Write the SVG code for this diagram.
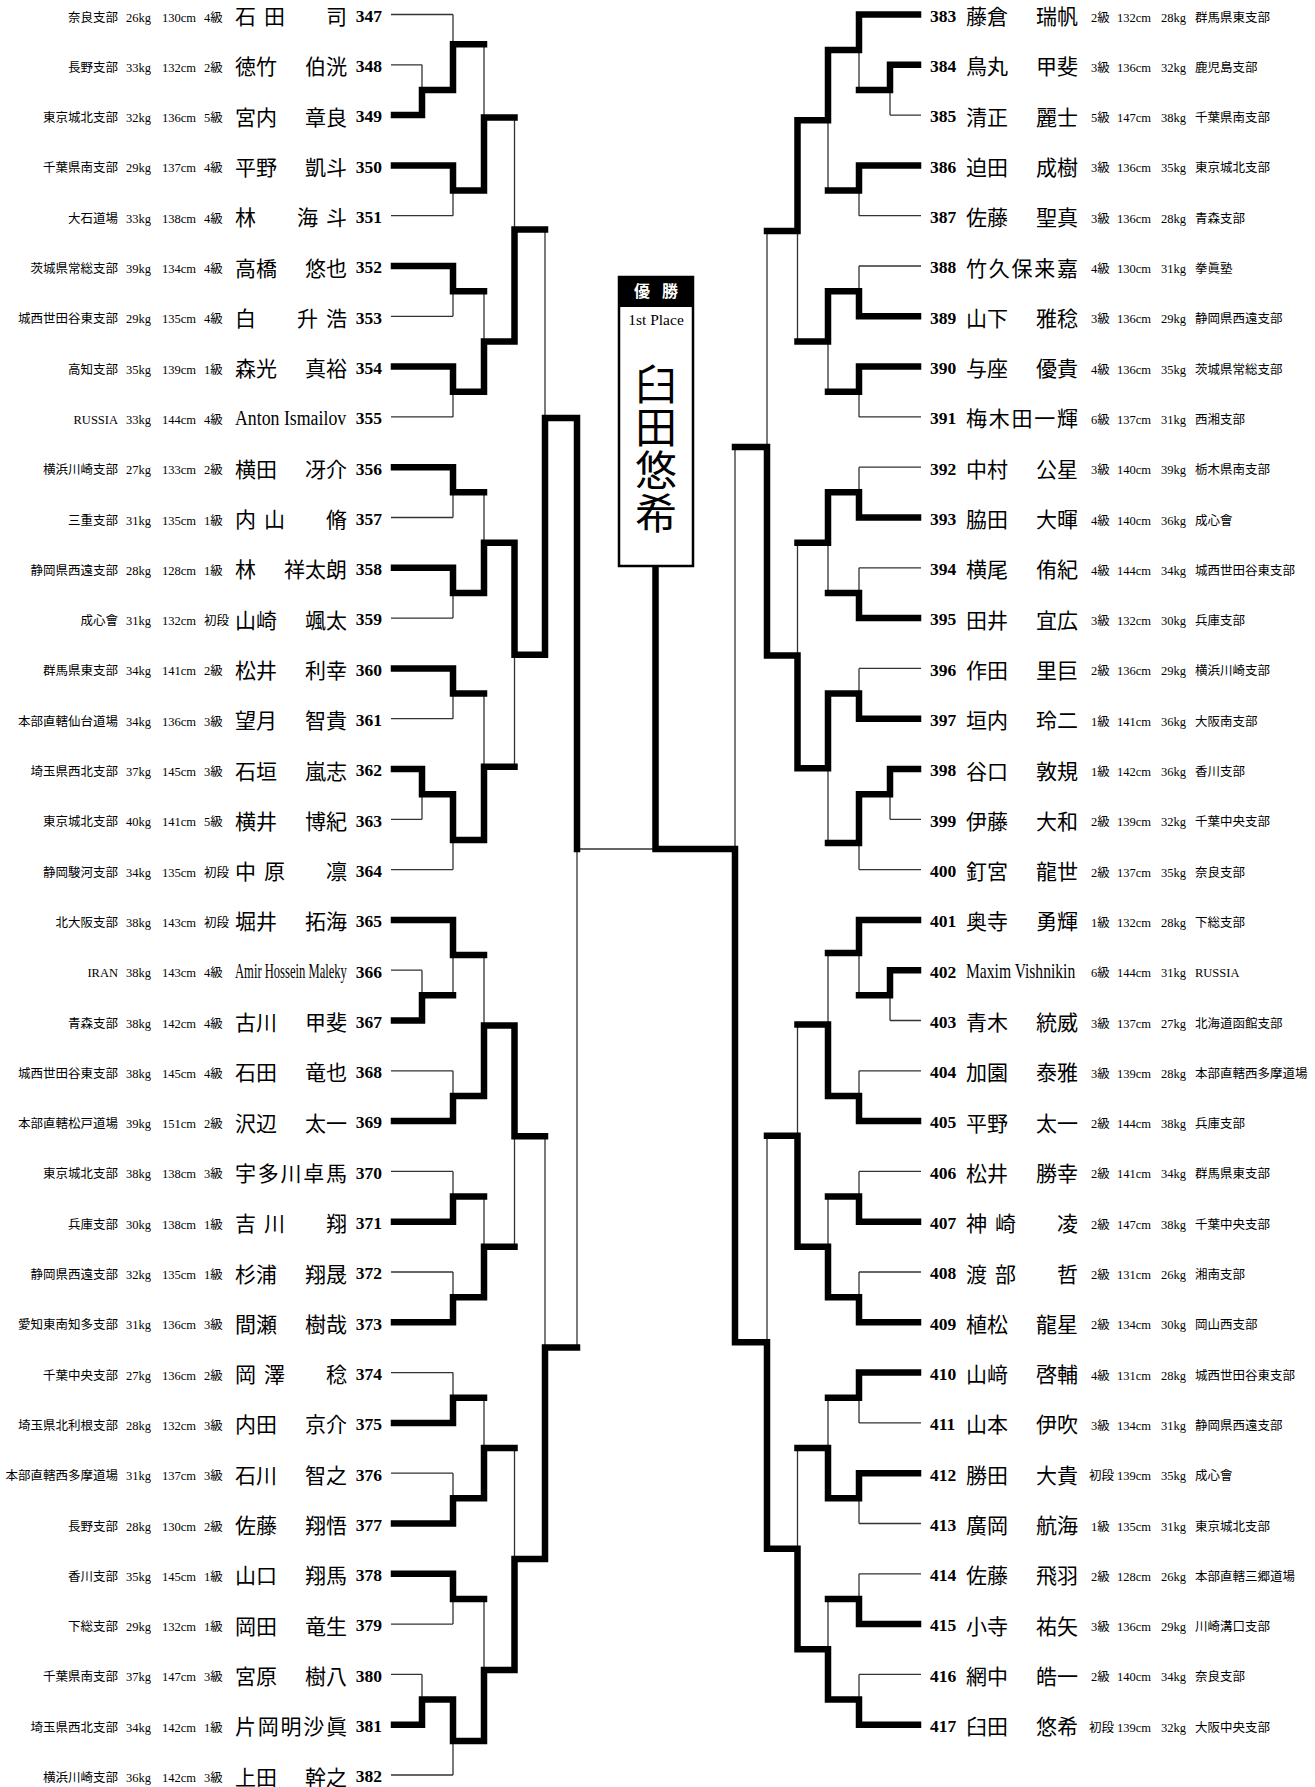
<svg xmlns="http://www.w3.org/2000/svg" width="1315" height="1787" viewBox="0 0 1315 1787">
<style>
text{font-family:"Liberation Serif","Noto Sans CJK JP",serif;fill:#000}
.i{font-size:12.5px}
.n{font-size:21px}
.lt{font-size:20px}
.no{font-size:17.5px;font-weight:bold}
.e{text-anchor:end}
.sp{letter-spacing:8px}
.tk{fill:none;stroke:#000;stroke-width:6.5;stroke-linecap:square;stroke-linejoin:miter}
.tn{fill:none;stroke:#333;stroke-width:1.3}
</style>
<rect width="1315" height="1787" fill="#fff"/>
<g id="connectors">
<path class="tn" d="M391 14.5H453M391 64.8H422M391 215.7H453M391 316.3H453M391 416.9H453M391 517.5H453M391 618.1H453M391 718.7H453M391 819.3H422M391 869.6H453M391 970.2H422M391 1070.8H453M391 1171.4H453M391 1272H453M391 1372.6H453M391 1473.2H453M391 1624.1H453M391 1674.4H422M391 1775H453
M422 64.8V90M453 14.5V44.3M453 215.7V190.55M484 44.3V117.4M453 316.3V291.15M453 416.9V391.75M484 291.15V341.45M514.5 117.4V229.4M453 517.5V492.35M453 618.1V592.95M484 492.35V542.65M453 718.7V693.55M422 819.3V794.15M453 869.6V840M484 693.55V766.8M514.5 766.8V654.7M545 229.4V418M422 970.2V995.35M453 995.35V955M453 1070.8V1095.95M484 955V1025.5M453 1171.4V1196.55M453 1272V1297.15M484 1196.55V1246.85M514.5 1246.85V1136.2M453 1372.6V1397.75M453 1473.2V1498.35M484 1397.75V1448.05M453 1624.1V1598.95M422 1674.4V1699.55M453 1775V1741M484 1598.95V1670M514.5 1448.05V1559M545 1136.2V1347.6M577 1347.6V849H655.5"/>
<path class="tk" d="M394 115.1H422M394 165.4H453M394 266H453M394 366.6H453M394 467.2H453M394 567.8H453M394 668.4H453M394 769H422M394 919.9H453M394 1020.5H422M394 1121.1H453M394 1221.7H453M394 1322.3H453M394 1422.9H453M394 1523.5H453M394 1573.8H453M394 1724.7H422
M422 115.1V90H453M453 90V44.3H484M453 165.4V190.55H484M484 190.55V117.4H514.5M453 266V291.15H484M453 366.6V391.75H484M484 391.75V341.45H514.5M514.5 341.45V229.4H545M453 467.2V492.35H484M453 567.8V592.95H484M484 592.95V542.65H514.5M453 668.4V693.55H484M422 769V794.15H453M453 794.15V840H484M484 840V766.8H514.5M514.5 542.65V654.7H545M545 654.7V418H577M422 1020.5V995.35H453M453 919.9V955H484M453 1121.1V1095.95H484M484 1095.95V1025.5H514.5M453 1221.7V1196.55H484M453 1322.3V1297.15H484M484 1297.15V1246.85H514.5M514.5 1025.5V1136.2H545M453 1422.9V1397.75H484M453 1523.5V1498.35H484M484 1498.35V1448.05H514.5M453 1573.8V1598.95H484M422 1724.7V1699.55H453M453 1699.55V1741H484M484 1741V1670H514.5M514.5 1670V1559H545M545 1559V1347.6H577M577 418V849"/>
<path class="tn" d="M921 115.1H890M921 215.7H859M921 266H859M921 416.9H859M921 467.2H859M921 567.8H859M921 668.4H859M921 819.3H890M921 869.6H859M921 1020.5H890M921 1070.8H859M921 1171.4H859M921 1272H859M921 1422.9H859M921 1523.5H859M921 1573.8H859M921 1674.4H859
M890 115.1V90M859 90V50M859 215.7V190.55M828 190.55V120.3M859 266V291.15M859 416.9V391.75M828 391.75V341.45M797.5 341.45V230.9M859 467.2V492.35M859 567.8V592.95M828 592.95V542.65M859 668.4V693.55M890 819.3V794.15M859 869.6V843M828 843V768.3M797.5 542.65V655.5M767 230.9V447M890 1020.5V995.35M859 995.35V953M859 1070.8V1095.95M828 953V1024.5M859 1171.4V1196.55M859 1272V1297.15M828 1196.55V1246.85M797.5 1024.5V1135.7M859 1422.9V1397.75M859 1523.5V1498.35M828 1397.75V1448.05M859 1573.8V1598.95M859 1674.4V1699.55M828 1598.95V1649.25M797.5 1448.05V1548.65M767 1135.7V1342.2M735 447V849"/>
<path class="tk" d="M918 14.5H859M918 64.8H890M918 165.4H859M918 316.3H859M918 366.6H859M918 517.5H859M918 618.1H859M918 718.7H859M918 769H890M918 919.9H859M918 970.2H890M918 1121.1H859M918 1221.7H859M918 1322.3H859M918 1372.6H859M918 1473.2H859M918 1624.1H859M918 1724.7H859
M890 64.8V90H859M859 14.5V50H828M859 165.4V190.55H828M828 50V120.3H797.5M859 316.3V291.15H828M859 366.6V391.75H828M828 291.15V341.45H797.5M797.5 120.3V230.9H767M859 517.5V492.35H828M859 618.1V592.95H828M828 492.35V542.65H797.5M859 718.7V693.55H828M890 769V794.15H859M859 794.15V843H828M828 693.55V768.3H797.5M797.5 768.3V655.5H767M767 655.5V447H735M890 970.2V995.35H859M859 919.9V953H828M859 1121.1V1095.95H828M828 1095.95V1024.5H797.5M859 1221.7V1196.55H828M859 1322.3V1297.15H828M828 1297.15V1246.85H797.5M797.5 1246.85V1135.7H767M859 1372.6V1397.75H828M859 1473.2V1498.35H828M828 1498.35V1448.05H797.5M859 1624.1V1598.95H828M859 1724.7V1699.55H828M828 1699.55V1649.25H797.5M797.5 1649.25V1548.65H767M767 1548.65V1342.2H735M735 1342.2V849H655.5V566"/>
</g>
<g id="champion">
<rect x="619" y="277" width="74" height="289" fill="#fff" stroke="#000" stroke-width="2.5"/>
<rect x="619" y="277" width="74" height="30" fill="#000"/>
<text x="642" y="297" font-size="16" font-weight="bold" text-anchor="middle" style="fill:#fff">優</text>
<text x="670" y="297" font-size="16" font-weight="bold" text-anchor="middle" style="fill:#fff">勝</text>
<text x="656" y="325" font-size="15.5" text-anchor="middle">1st Place</text>
<text x="656" y="400" font-size="42" text-anchor="middle">臼</text>
<text x="656" y="443" font-size="42" text-anchor="middle">田</text>
<text x="656" y="486" font-size="42" text-anchor="middle">悠</text>
<text x="656" y="529" font-size="42" text-anchor="middle">希</text>
</g>
<g id="p347" transform="translate(0,14.5)"><text class="i e" x="118" y="7">奈良支部</text><text class="i" x="126" y="7">26kg</text><text class="i" x="162" y="7">130cm</text><text class="i" x="204" y="7">4級</text><text class="n sp" x="235" y="9.5">石田</text><text class="n e" x="347" y="9.5">司</text><text class="no e" x="382" y="7.3">347</text></g>
<g id="p348" transform="translate(0,64.8)"><text class="i e" x="118" y="7">長野支部</text><text class="i" x="126" y="7">33kg</text><text class="i" x="162" y="7">132cm</text><text class="i" x="204" y="7">2級</text><text class="n" x="235" y="9.5">徳竹</text><text class="n e" x="347" y="9.5">伯洸</text><text class="no e" x="382" y="7.3">348</text></g>
<g id="p349" transform="translate(0,115.1)"><text class="i e" x="118" y="7">東京城北支部</text><text class="i" x="126" y="7">32kg</text><text class="i" x="162" y="7">136cm</text><text class="i" x="204" y="7">5級</text><text class="n" x="235" y="9.5">宮内</text><text class="n e" x="347" y="9.5">章良</text><text class="no e" x="382" y="7.3">349</text></g>
<g id="p350" transform="translate(0,165.4)"><text class="i e" x="118" y="7">千葉県南支部</text><text class="i" x="126" y="7">29kg</text><text class="i" x="162" y="7">137cm</text><text class="i" x="204" y="7">4級</text><text class="n" x="235" y="9.5">平野</text><text class="n e" x="347" y="9.5">凱斗</text><text class="no e" x="382" y="7.3">350</text></g>
<g id="p351" transform="translate(0,215.7)"><text class="i e" x="118" y="7">大石道場</text><text class="i" x="126" y="7">33kg</text><text class="i" x="162" y="7">138cm</text><text class="i" x="204" y="7">4級</text><text class="n" x="235" y="9.5">林</text><text class="n sp" x="297" y="9.5">海斗</text><text class="no e" x="382" y="7.3">351</text></g>
<g id="p352" transform="translate(0,266)"><text class="i e" x="118" y="7">茨城県常総支部</text><text class="i" x="126" y="7">39kg</text><text class="i" x="162" y="7">134cm</text><text class="i" x="204" y="7">4級</text><text class="n" x="235" y="9.5">高橋</text><text class="n e" x="347" y="9.5">悠也</text><text class="no e" x="382" y="7.3">352</text></g>
<g id="p353" transform="translate(0,316.3)"><text class="i e" x="118" y="7">城西世田谷東支部</text><text class="i" x="126" y="7">29kg</text><text class="i" x="162" y="7">135cm</text><text class="i" x="204" y="7">4級</text><text class="n" x="235" y="9.5">白</text><text class="n sp" x="297" y="9.5">升浩</text><text class="no e" x="382" y="7.3">353</text></g>
<g id="p354" transform="translate(0,366.6)"><text class="i e" x="118" y="7">高知支部</text><text class="i" x="126" y="7">35kg</text><text class="i" x="162" y="7">139cm</text><text class="i" x="204" y="7">1級</text><text class="n" x="235" y="9.5">森光</text><text class="n e" x="347" y="9.5">真裕</text><text class="no e" x="382" y="7.3">354</text></g>
<g id="p355" transform="translate(0,416.9)"><text class="i e" x="118" y="7">RUSSIA</text><text class="i" x="126" y="7">33kg</text><text class="i" x="162" y="7">144cm</text><text class="i" x="204" y="7">4級</text><text class="lt" transform="translate(235,8) scale(0.89,1)">Anton Ismailov</text><text class="no e" x="382" y="7.3">355</text></g>
<g id="p356" transform="translate(0,467.2)"><text class="i e" x="118" y="7">横浜川崎支部</text><text class="i" x="126" y="7">27kg</text><text class="i" x="162" y="7">133cm</text><text class="i" x="204" y="7">2級</text><text class="n" x="235" y="9.5">横田</text><text class="n e" x="347" y="9.5">冴介</text><text class="no e" x="382" y="7.3">356</text></g>
<g id="p357" transform="translate(0,517.5)"><text class="i e" x="118" y="7">三重支部</text><text class="i" x="126" y="7">31kg</text><text class="i" x="162" y="7">135cm</text><text class="i" x="204" y="7">1級</text><text class="n sp" x="235" y="9.5">内山</text><text class="n e" x="347" y="9.5">脩</text><text class="no e" x="382" y="7.3">357</text></g>
<g id="p358" transform="translate(0,567.8)"><text class="i e" x="118" y="7">静岡県西遠支部</text><text class="i" x="126" y="7">28kg</text><text class="i" x="162" y="7">128cm</text><text class="i" x="204" y="7">1級</text><text class="n" x="235" y="9.5">林</text><text class="n e" x="347" y="9.5">祥太朗</text><text class="no e" x="382" y="7.3">358</text></g>
<g id="p359" transform="translate(0,618.1)"><text class="i e" x="118" y="7">成心會</text><text class="i" x="126" y="7">31kg</text><text class="i" x="162" y="7">132cm</text><text class="i" x="204" y="7">初段</text><text class="n" x="235" y="9.5">山崎</text><text class="n e" x="347" y="9.5">颯太</text><text class="no e" x="382" y="7.3">359</text></g>
<g id="p360" transform="translate(0,668.4)"><text class="i e" x="118" y="7">群馬県東支部</text><text class="i" x="126" y="7">34kg</text><text class="i" x="162" y="7">141cm</text><text class="i" x="204" y="7">2級</text><text class="n" x="235" y="9.5">松井</text><text class="n e" x="347" y="9.5">利幸</text><text class="no e" x="382" y="7.3">360</text></g>
<g id="p361" transform="translate(0,718.7)"><text class="i e" x="118" y="7">本部直轄仙台道場</text><text class="i" x="126" y="7">34kg</text><text class="i" x="162" y="7">136cm</text><text class="i" x="204" y="7">3級</text><text class="n" x="235" y="9.5">望月</text><text class="n e" x="347" y="9.5">智貴</text><text class="no e" x="382" y="7.3">361</text></g>
<g id="p362" transform="translate(0,769)"><text class="i e" x="118" y="7">埼玉県西北支部</text><text class="i" x="126" y="7">37kg</text><text class="i" x="162" y="7">145cm</text><text class="i" x="204" y="7">3級</text><text class="n" x="235" y="9.5">石垣</text><text class="n e" x="347" y="9.5">嵐志</text><text class="no e" x="382" y="7.3">362</text></g>
<g id="p363" transform="translate(0,819.3)"><text class="i e" x="118" y="7">東京城北支部</text><text class="i" x="126" y="7">40kg</text><text class="i" x="162" y="7">141cm</text><text class="i" x="204" y="7">5級</text><text class="n" x="235" y="9.5">横井</text><text class="n e" x="347" y="9.5">博紀</text><text class="no e" x="382" y="7.3">363</text></g>
<g id="p364" transform="translate(0,869.6)"><text class="i e" x="118" y="7">静岡駿河支部</text><text class="i" x="126" y="7">34kg</text><text class="i" x="162" y="7">135cm</text><text class="i" x="204" y="7">初段</text><text class="n sp" x="235" y="9.5">中原</text><text class="n e" x="347" y="9.5">凛</text><text class="no e" x="382" y="7.3">364</text></g>
<g id="p365" transform="translate(0,919.9)"><text class="i e" x="118" y="7">北大阪支部</text><text class="i" x="126" y="7">38kg</text><text class="i" x="162" y="7">143cm</text><text class="i" x="204" y="7">初段</text><text class="n" x="235" y="9.5">堀井</text><text class="n e" x="347" y="9.5">拓海</text><text class="no e" x="382" y="7.3">365</text></g>
<g id="p366" transform="translate(0,970.2)"><text class="i e" x="118" y="7">IRAN</text><text class="i" x="126" y="7">38kg</text><text class="i" x="162" y="7">143cm</text><text class="i" x="204" y="7">4級</text><text class="lt" transform="translate(235,8) scale(0.63,1)">Amir Hossein Maleky</text><text class="no e" x="382" y="7.3">366</text></g>
<g id="p367" transform="translate(0,1020.5)"><text class="i e" x="118" y="7">青森支部</text><text class="i" x="126" y="7">38kg</text><text class="i" x="162" y="7">142cm</text><text class="i" x="204" y="7">4級</text><text class="n" x="235" y="9.5">古川</text><text class="n e" x="347" y="9.5">甲斐</text><text class="no e" x="382" y="7.3">367</text></g>
<g id="p368" transform="translate(0,1070.8)"><text class="i e" x="118" y="7">城西世田谷東支部</text><text class="i" x="126" y="7">38kg</text><text class="i" x="162" y="7">145cm</text><text class="i" x="204" y="7">4級</text><text class="n" x="235" y="9.5">石田</text><text class="n e" x="347" y="9.5">竜也</text><text class="no e" x="382" y="7.3">368</text></g>
<g id="p369" transform="translate(0,1121.1)"><text class="i e" x="118" y="7">本部直轄松戸道場</text><text class="i" x="126" y="7">39kg</text><text class="i" x="162" y="7">151cm</text><text class="i" x="204" y="7">2級</text><text class="n" x="235" y="9.5">沢辺</text><text class="n e" x="347" y="9.5">太一</text><text class="no e" x="382" y="7.3">369</text></g>
<g id="p370" transform="translate(0,1171.4)"><text class="i e" x="118" y="7">東京城北支部</text><text class="i" x="126" y="7">38kg</text><text class="i" x="162" y="7">138cm</text><text class="i" x="204" y="7">3級</text><text class="n" x="235" y="9.5" textLength="112" lengthAdjust="spacing">宇多川卓馬</text><text class="no e" x="382" y="7.3">370</text></g>
<g id="p371" transform="translate(0,1221.7)"><text class="i e" x="118" y="7">兵庫支部</text><text class="i" x="126" y="7">30kg</text><text class="i" x="162" y="7">138cm</text><text class="i" x="204" y="7">1級</text><text class="n sp" x="235" y="9.5">吉川</text><text class="n e" x="347" y="9.5">翔</text><text class="no e" x="382" y="7.3">371</text></g>
<g id="p372" transform="translate(0,1272)"><text class="i e" x="118" y="7">静岡県西遠支部</text><text class="i" x="126" y="7">32kg</text><text class="i" x="162" y="7">135cm</text><text class="i" x="204" y="7">1級</text><text class="n" x="235" y="9.5">杉浦</text><text class="n e" x="347" y="9.5">翔晟</text><text class="no e" x="382" y="7.3">372</text></g>
<g id="p373" transform="translate(0,1322.3)"><text class="i e" x="118" y="7">愛知東南知多支部</text><text class="i" x="126" y="7">31kg</text><text class="i" x="162" y="7">136cm</text><text class="i" x="204" y="7">3級</text><text class="n" x="235" y="9.5">間瀬</text><text class="n e" x="347" y="9.5">樹哉</text><text class="no e" x="382" y="7.3">373</text></g>
<g id="p374" transform="translate(0,1372.6)"><text class="i e" x="118" y="7">千葉中央支部</text><text class="i" x="126" y="7">27kg</text><text class="i" x="162" y="7">136cm</text><text class="i" x="204" y="7">2級</text><text class="n sp" x="235" y="9.5">岡澤</text><text class="n e" x="347" y="9.5">稔</text><text class="no e" x="382" y="7.3">374</text></g>
<g id="p375" transform="translate(0,1422.9)"><text class="i e" x="118" y="7">埼玉県北利根支部</text><text class="i" x="126" y="7">28kg</text><text class="i" x="162" y="7">132cm</text><text class="i" x="204" y="7">3級</text><text class="n" x="235" y="9.5">内田</text><text class="n e" x="347" y="9.5">京介</text><text class="no e" x="382" y="7.3">375</text></g>
<g id="p376" transform="translate(0,1473.2)"><text class="i e" x="118" y="7">本部直轄西多摩道場</text><text class="i" x="126" y="7">31kg</text><text class="i" x="162" y="7">137cm</text><text class="i" x="204" y="7">3級</text><text class="n" x="235" y="9.5">石川</text><text class="n e" x="347" y="9.5">智之</text><text class="no e" x="382" y="7.3">376</text></g>
<g id="p377" transform="translate(0,1523.5)"><text class="i e" x="118" y="7">長野支部</text><text class="i" x="126" y="7">28kg</text><text class="i" x="162" y="7">130cm</text><text class="i" x="204" y="7">2級</text><text class="n" x="235" y="9.5">佐藤</text><text class="n e" x="347" y="9.5">翔悟</text><text class="no e" x="382" y="7.3">377</text></g>
<g id="p378" transform="translate(0,1573.8)"><text class="i e" x="118" y="7">香川支部</text><text class="i" x="126" y="7">35kg</text><text class="i" x="162" y="7">145cm</text><text class="i" x="204" y="7">1級</text><text class="n" x="235" y="9.5">山口</text><text class="n e" x="347" y="9.5">翔馬</text><text class="no e" x="382" y="7.3">378</text></g>
<g id="p379" transform="translate(0,1624.1)"><text class="i e" x="118" y="7">下総支部</text><text class="i" x="126" y="7">29kg</text><text class="i" x="162" y="7">132cm</text><text class="i" x="204" y="7">1級</text><text class="n" x="235" y="9.5">岡田</text><text class="n e" x="347" y="9.5">竜生</text><text class="no e" x="382" y="7.3">379</text></g>
<g id="p380" transform="translate(0,1674.4)"><text class="i e" x="118" y="7">千葉県南支部</text><text class="i" x="126" y="7">37kg</text><text class="i" x="162" y="7">147cm</text><text class="i" x="204" y="7">3級</text><text class="n" x="235" y="9.5">宮原</text><text class="n e" x="347" y="9.5">樹八</text><text class="no e" x="382" y="7.3">380</text></g>
<g id="p381" transform="translate(0,1724.7)"><text class="i e" x="118" y="7">埼玉県西北支部</text><text class="i" x="126" y="7">34kg</text><text class="i" x="162" y="7">142cm</text><text class="i" x="204" y="7">1級</text><text class="n" x="235" y="9.5" textLength="112" lengthAdjust="spacing">片岡明沙眞</text><text class="no e" x="382" y="7.3">381</text></g>
<g id="p382" transform="translate(0,1775)"><text class="i e" x="118" y="7">横浜川崎支部</text><text class="i" x="126" y="7">36kg</text><text class="i" x="162" y="7">142cm</text><text class="i" x="204" y="7">3級</text><text class="n" x="235" y="9.5">上田</text><text class="n e" x="347" y="9.5">幹之</text><text class="no e" x="382" y="7.3">382</text></g>
<g id="p383" transform="translate(0,14.5)"><text class="no" x="930" y="7.3">383</text><text class="n" x="966" y="9.5">藤倉</text><text class="n e" x="1078" y="9.5">瑞帆</text><text class="i" x="1091" y="7">2級</text><text class="i" x="1117" y="7">132cm</text><text class="i" x="1161" y="7">28kg</text><text class="i" x="1195" y="7">群馬県東支部</text></g>
<g id="p384" transform="translate(0,64.8)"><text class="no" x="930" y="7.3">384</text><text class="n" x="966" y="9.5">鳥丸</text><text class="n e" x="1078" y="9.5">甲斐</text><text class="i" x="1091" y="7">3級</text><text class="i" x="1117" y="7">136cm</text><text class="i" x="1161" y="7">32kg</text><text class="i" x="1195" y="7">鹿児島支部</text></g>
<g id="p385" transform="translate(0,115.1)"><text class="no" x="930" y="7.3">385</text><text class="n" x="966" y="9.5">清正</text><text class="n e" x="1078" y="9.5">麗士</text><text class="i" x="1091" y="7">5級</text><text class="i" x="1117" y="7">147cm</text><text class="i" x="1161" y="7">38kg</text><text class="i" x="1195" y="7">千葉県南支部</text></g>
<g id="p386" transform="translate(0,165.4)"><text class="no" x="930" y="7.3">386</text><text class="n" x="966" y="9.5">迫田</text><text class="n e" x="1078" y="9.5">成樹</text><text class="i" x="1091" y="7">3級</text><text class="i" x="1117" y="7">136cm</text><text class="i" x="1161" y="7">35kg</text><text class="i" x="1195" y="7">東京城北支部</text></g>
<g id="p387" transform="translate(0,215.7)"><text class="no" x="930" y="7.3">387</text><text class="n" x="966" y="9.5">佐藤</text><text class="n e" x="1078" y="9.5">聖真</text><text class="i" x="1091" y="7">3級</text><text class="i" x="1117" y="7">136cm</text><text class="i" x="1161" y="7">28kg</text><text class="i" x="1195" y="7">青森支部</text></g>
<g id="p388" transform="translate(0,266)"><text class="no" x="930" y="7.3">388</text><text class="n" x="966" y="9.5" textLength="112" lengthAdjust="spacing">竹久保来嘉</text><text class="i" x="1091" y="7">4級</text><text class="i" x="1117" y="7">130cm</text><text class="i" x="1161" y="7">31kg</text><text class="i" x="1195" y="7">拳眞塾</text></g>
<g id="p389" transform="translate(0,316.3)"><text class="no" x="930" y="7.3">389</text><text class="n" x="966" y="9.5">山下</text><text class="n e" x="1078" y="9.5">雅稔</text><text class="i" x="1091" y="7">3級</text><text class="i" x="1117" y="7">136cm</text><text class="i" x="1161" y="7">29kg</text><text class="i" x="1195" y="7">静岡県西遠支部</text></g>
<g id="p390" transform="translate(0,366.6)"><text class="no" x="930" y="7.3">390</text><text class="n" x="966" y="9.5">与座</text><text class="n e" x="1078" y="9.5">優貴</text><text class="i" x="1091" y="7">4級</text><text class="i" x="1117" y="7">136cm</text><text class="i" x="1161" y="7">35kg</text><text class="i" x="1195" y="7">茨城県常総支部</text></g>
<g id="p391" transform="translate(0,416.9)"><text class="no" x="930" y="7.3">391</text><text class="n" x="966" y="9.5" textLength="112" lengthAdjust="spacing">梅木田一輝</text><text class="i" x="1091" y="7">6級</text><text class="i" x="1117" y="7">137cm</text><text class="i" x="1161" y="7">31kg</text><text class="i" x="1195" y="7">西湘支部</text></g>
<g id="p392" transform="translate(0,467.2)"><text class="no" x="930" y="7.3">392</text><text class="n" x="966" y="9.5">中村</text><text class="n e" x="1078" y="9.5">公星</text><text class="i" x="1091" y="7">3級</text><text class="i" x="1117" y="7">140cm</text><text class="i" x="1161" y="7">39kg</text><text class="i" x="1195" y="7">栃木県南支部</text></g>
<g id="p393" transform="translate(0,517.5)"><text class="no" x="930" y="7.3">393</text><text class="n" x="966" y="9.5">脇田</text><text class="n e" x="1078" y="9.5">大暉</text><text class="i" x="1091" y="7">4級</text><text class="i" x="1117" y="7">140cm</text><text class="i" x="1161" y="7">36kg</text><text class="i" x="1195" y="7">成心會</text></g>
<g id="p394" transform="translate(0,567.8)"><text class="no" x="930" y="7.3">394</text><text class="n" x="966" y="9.5">横尾</text><text class="n e" x="1078" y="9.5">侑紀</text><text class="i" x="1091" y="7">4級</text><text class="i" x="1117" y="7">144cm</text><text class="i" x="1161" y="7">34kg</text><text class="i" x="1195" y="7">城西世田谷東支部</text></g>
<g id="p395" transform="translate(0,618.1)"><text class="no" x="930" y="7.3">395</text><text class="n" x="966" y="9.5">田井</text><text class="n e" x="1078" y="9.5">宜広</text><text class="i" x="1091" y="7">3級</text><text class="i" x="1117" y="7">132cm</text><text class="i" x="1161" y="7">30kg</text><text class="i" x="1195" y="7">兵庫支部</text></g>
<g id="p396" transform="translate(0,668.4)"><text class="no" x="930" y="7.3">396</text><text class="n" x="966" y="9.5">作田</text><text class="n e" x="1078" y="9.5">里巨</text><text class="i" x="1091" y="7">2級</text><text class="i" x="1117" y="7">136cm</text><text class="i" x="1161" y="7">29kg</text><text class="i" x="1195" y="7">横浜川崎支部</text></g>
<g id="p397" transform="translate(0,718.7)"><text class="no" x="930" y="7.3">397</text><text class="n" x="966" y="9.5">垣内</text><text class="n e" x="1078" y="9.5">玲二</text><text class="i" x="1091" y="7">1級</text><text class="i" x="1117" y="7">141cm</text><text class="i" x="1161" y="7">36kg</text><text class="i" x="1195" y="7">大阪南支部</text></g>
<g id="p398" transform="translate(0,769)"><text class="no" x="930" y="7.3">398</text><text class="n" x="966" y="9.5">谷口</text><text class="n e" x="1078" y="9.5">敦規</text><text class="i" x="1091" y="7">1級</text><text class="i" x="1117" y="7">142cm</text><text class="i" x="1161" y="7">36kg</text><text class="i" x="1195" y="7">香川支部</text></g>
<g id="p399" transform="translate(0,819.3)"><text class="no" x="930" y="7.3">399</text><text class="n" x="966" y="9.5">伊藤</text><text class="n e" x="1078" y="9.5">大和</text><text class="i" x="1091" y="7">2級</text><text class="i" x="1117" y="7">139cm</text><text class="i" x="1161" y="7">32kg</text><text class="i" x="1195" y="7">千葉中央支部</text></g>
<g id="p400" transform="translate(0,869.6)"><text class="no" x="930" y="7.3">400</text><text class="n" x="966" y="9.5">釘宮</text><text class="n e" x="1078" y="9.5">龍世</text><text class="i" x="1091" y="7">2級</text><text class="i" x="1117" y="7">137cm</text><text class="i" x="1161" y="7">35kg</text><text class="i" x="1195" y="7">奈良支部</text></g>
<g id="p401" transform="translate(0,919.9)"><text class="no" x="930" y="7.3">401</text><text class="n" x="966" y="9.5">奥寺</text><text class="n e" x="1078" y="9.5">勇輝</text><text class="i" x="1091" y="7">1級</text><text class="i" x="1117" y="7">132cm</text><text class="i" x="1161" y="7">28kg</text><text class="i" x="1195" y="7">下総支部</text></g>
<g id="p402" transform="translate(0,970.2)"><text class="no" x="930" y="7.3">402</text><text class="lt" transform="translate(966,8) scale(0.78,1)">Maxim Vishnikin</text><text class="i" x="1091" y="7">6級</text><text class="i" x="1117" y="7">144cm</text><text class="i" x="1161" y="7">31kg</text><text class="i" x="1195" y="7">RUSSIA</text></g>
<g id="p403" transform="translate(0,1020.5)"><text class="no" x="930" y="7.3">403</text><text class="n" x="966" y="9.5">青木</text><text class="n e" x="1078" y="9.5">統威</text><text class="i" x="1091" y="7">3級</text><text class="i" x="1117" y="7">137cm</text><text class="i" x="1161" y="7">27kg</text><text class="i" x="1195" y="7">北海道函館支部</text></g>
<g id="p404" transform="translate(0,1070.8)"><text class="no" x="930" y="7.3">404</text><text class="n" x="966" y="9.5">加園</text><text class="n e" x="1078" y="9.5">泰雅</text><text class="i" x="1091" y="7">3級</text><text class="i" x="1117" y="7">139cm</text><text class="i" x="1161" y="7">28kg</text><text class="i" x="1195" y="7">本部直轄西多摩道場</text></g>
<g id="p405" transform="translate(0,1121.1)"><text class="no" x="930" y="7.3">405</text><text class="n" x="966" y="9.5">平野</text><text class="n e" x="1078" y="9.5">太一</text><text class="i" x="1091" y="7">2級</text><text class="i" x="1117" y="7">144cm</text><text class="i" x="1161" y="7">38kg</text><text class="i" x="1195" y="7">兵庫支部</text></g>
<g id="p406" transform="translate(0,1171.4)"><text class="no" x="930" y="7.3">406</text><text class="n" x="966" y="9.5">松井</text><text class="n e" x="1078" y="9.5">勝幸</text><text class="i" x="1091" y="7">2級</text><text class="i" x="1117" y="7">141cm</text><text class="i" x="1161" y="7">34kg</text><text class="i" x="1195" y="7">群馬県東支部</text></g>
<g id="p407" transform="translate(0,1221.7)"><text class="no" x="930" y="7.3">407</text><text class="n sp" x="966" y="9.5">神崎</text><text class="n e" x="1078" y="9.5">凌</text><text class="i" x="1091" y="7">2級</text><text class="i" x="1117" y="7">147cm</text><text class="i" x="1161" y="7">38kg</text><text class="i" x="1195" y="7">千葉中央支部</text></g>
<g id="p408" transform="translate(0,1272)"><text class="no" x="930" y="7.3">408</text><text class="n sp" x="966" y="9.5">渡部</text><text class="n e" x="1078" y="9.5">哲</text><text class="i" x="1091" y="7">2級</text><text class="i" x="1117" y="7">131cm</text><text class="i" x="1161" y="7">26kg</text><text class="i" x="1195" y="7">湘南支部</text></g>
<g id="p409" transform="translate(0,1322.3)"><text class="no" x="930" y="7.3">409</text><text class="n" x="966" y="9.5">植松</text><text class="n e" x="1078" y="9.5">龍星</text><text class="i" x="1091" y="7">2級</text><text class="i" x="1117" y="7">134cm</text><text class="i" x="1161" y="7">30kg</text><text class="i" x="1195" y="7">岡山西支部</text></g>
<g id="p410" transform="translate(0,1372.6)"><text class="no" x="930" y="7.3">410</text><text class="n" x="966" y="9.5">山﨑</text><text class="n e" x="1078" y="9.5">啓輔</text><text class="i" x="1091" y="7">4級</text><text class="i" x="1117" y="7">131cm</text><text class="i" x="1161" y="7">28kg</text><text class="i" x="1195" y="7">城西世田谷東支部</text></g>
<g id="p411" transform="translate(0,1422.9)"><text class="no" x="930" y="7.3">411</text><text class="n" x="966" y="9.5">山本</text><text class="n e" x="1078" y="9.5">伊吹</text><text class="i" x="1091" y="7">3級</text><text class="i" x="1117" y="7">134cm</text><text class="i" x="1161" y="7">31kg</text><text class="i" x="1195" y="7">静岡県西遠支部</text></g>
<g id="p412" transform="translate(0,1473.2)"><text class="no" x="930" y="7.3">412</text><text class="n" x="966" y="9.5">勝田</text><text class="n e" x="1078" y="9.5">大貴</text><text class="i" x="1089" y="7">初段</text><text class="i" x="1117" y="7">139cm</text><text class="i" x="1161" y="7">35kg</text><text class="i" x="1195" y="7">成心會</text></g>
<g id="p413" transform="translate(0,1523.5)"><text class="no" x="930" y="7.3">413</text><text class="n" x="966" y="9.5">廣岡</text><text class="n e" x="1078" y="9.5">航海</text><text class="i" x="1091" y="7">1級</text><text class="i" x="1117" y="7">135cm</text><text class="i" x="1161" y="7">31kg</text><text class="i" x="1195" y="7">東京城北支部</text></g>
<g id="p414" transform="translate(0,1573.8)"><text class="no" x="930" y="7.3">414</text><text class="n" x="966" y="9.5">佐藤</text><text class="n e" x="1078" y="9.5">飛羽</text><text class="i" x="1091" y="7">2級</text><text class="i" x="1117" y="7">128cm</text><text class="i" x="1161" y="7">26kg</text><text class="i" x="1195" y="7">本部直轄三郷道場</text></g>
<g id="p415" transform="translate(0,1624.1)"><text class="no" x="930" y="7.3">415</text><text class="n" x="966" y="9.5">小寺</text><text class="n e" x="1078" y="9.5">祐矢</text><text class="i" x="1091" y="7">3級</text><text class="i" x="1117" y="7">136cm</text><text class="i" x="1161" y="7">29kg</text><text class="i" x="1195" y="7">川崎溝口支部</text></g>
<g id="p416" transform="translate(0,1674.4)"><text class="no" x="930" y="7.3">416</text><text class="n" x="966" y="9.5">網中</text><text class="n e" x="1078" y="9.5">皓一</text><text class="i" x="1091" y="7">2級</text><text class="i" x="1117" y="7">140cm</text><text class="i" x="1161" y="7">34kg</text><text class="i" x="1195" y="7">奈良支部</text></g>
<g id="p417" transform="translate(0,1724.7)"><text class="no" x="930" y="7.3">417</text><text class="n" x="966" y="9.5">臼田</text><text class="n e" x="1078" y="9.5">悠希</text><text class="i" x="1089" y="7">初段</text><text class="i" x="1117" y="7">139cm</text><text class="i" x="1161" y="7">32kg</text><text class="i" x="1195" y="7">大阪中央支部</text></g>
</svg>
